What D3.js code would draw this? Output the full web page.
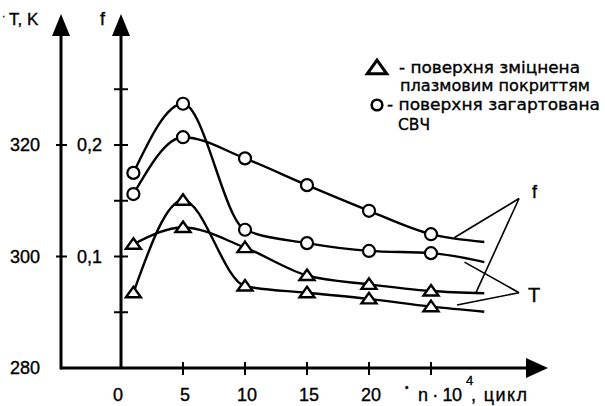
<!DOCTYPE html>
<html><head><meta charset="utf-8">
<script src="https://cdn.jsdelivr.net/npm/d3@7"></script>
<style>
html,body{margin:0;padding:0;background:#fff;}
svg text{font-family:"Liberation Sans",Arial,sans-serif;fill:#000;stroke:#000;stroke-width:0.35px;}
svg text.leg{font-family:"DejaVu Sans",sans-serif;stroke-width:0.35px;}
</style></head>
<body><svg id="c" width="605" height="406"></svg>
<script>
// ---- data ----
const cycles = [1, 5, 10, 15, 20, 25, 29.3];          // n·10^4 cycles (last = curve end, no marker)
const markerCount = 6;
const tempHardenedSHF = [315.0, 327.4, 304.8, 302.4, 301.0, 300.6, 299.0];   // T, K (circles)
const frictionHardenedSHF = [0.156, 0.207, 0.188, 0.164, 0.141, 0.120, 0.113]; // f (circles)
const tempPlasma = [293.5, 310.1, 294.7, 293.5, 292.4, 291.0, 290.1];         // T, K (triangles)
const frictionPlasma = [0.111, 0.126, 0.108, 0.083, 0.075, 0.069, 0.067];     // f (triangles)
const xTicks = [5, 10, 15, 20, 25];
const xTickLabels = ["0", "5", "10", "15", "20"];
const xTickLabelVals = [0, 5, 10, 15, 20];
const tTicks = [320, 300];
const tTickLabels = ["320", "300", "280"];
const tTickLabelVals = [320, 300, 280];
const fTicks = [0.25, 0.2, 0.15, 0.1, 0.05];
const fTickLabels = ["0,2", "0,1"];
const fTickLabelVals = [0.2, 0.1];
const legendTexts = [["- поверхня зміцнена", "плазмовим покриттям"], ["- поверхня загартована", "СВЧ"]];

// ---- scales ----
const svg = d3.select("#c");
const x = d3.scaleLinear().domain([0, 25]).range([121, 431]);
const yT = d3.scaleLinear().domain([280, 320]).range([368, 145]);
const yF = d3.scaleLinear().domain([0, 0.2]).range([368, 145]);
const tAxisX = 61, fAxisX = x(0), baseY = yT(280);

// ---- axes ----
const g = svg.append("g");
g.append("line").attr("x1", tAxisX).attr("x2", tAxisX).attr("y1", baseY + 1.5).attr("y2", 30).attr("stroke", "#000").attr("stroke-width", 3);
g.append("path").attr("d", `M${tAxisX},14 L${tAxisX - 9},36 L${tAxisX + 9},36 Z`).attr("fill", "#000");
g.append("line").attr("x1", fAxisX).attr("x2", fAxisX).attr("y1", baseY).attr("y2", 30).attr("stroke", "#000").attr("stroke-width", 3);
g.append("path").attr("d", `M${fAxisX},14 L${fAxisX - 9},36 L${fAxisX + 9},36 Z`).attr("fill", "#000");
g.append("line").attr("x1", tAxisX).attr("x2", 535).attr("y1", baseY).attr("y2", baseY).attr("stroke", "#000").attr("stroke-width", 3);
g.append("path").attr("d", `M548,${baseY} L526,${baseY - 10} L526,${baseY + 10} Z`).attr("fill", "#000");

// ticks
tTicks.forEach(v => g.append("line").attr("x1", tAxisX - 5).attr("x2", tAxisX + 6).attr("y1", yT(v)).attr("y2", yT(v)).attr("stroke", "#000").attr("stroke-width", 2));
fTicks.forEach(v => g.append("line").attr("x1", fAxisX - 7).attr("x2", fAxisX + 7).attr("y1", yF(v)).attr("y2", yF(v)).attr("stroke", "#000").attr("stroke-width", 2));
xTicks.forEach(v => g.append("line").attr("x1", x(v)).attr("x2", x(v)).attr("y1", baseY - 6).attr("y2", baseY + 7).attr("stroke", "#000").attr("stroke-width", 2));

// tick labels
tTickLabelVals.forEach((v, i) => g.append("text").attr("x", 40).attr("y", yT(v)).attr("dy", "0.35em").attr("text-anchor", "end").attr("font-size", 18).text(tTickLabels[i]));
fTickLabelVals.forEach((v, i) => g.append("text").attr("x", 102).attr("y", yF(v)).attr("dy", "0.35em").attr("text-anchor", "end").attr("font-size", 18).text(fTickLabels[i]));
xTickLabelVals.forEach((v, i) => g.append("text").attr("x", x(v) + (v === 0 ? -3 : 2)).attr("y", 401).attr("text-anchor", "middle").attr("font-size", 18).text(xTickLabels[i]));

// axis titles
g.append("text").attr("x", 2).attr("y", 20).attr("font-size", 10).text("·");
g.append("text").attr("x", 9).attr("y", 25).attr("font-size", 17).text("T, K");
g.append("text").attr("x", 100).attr("y", 25).attr("font-size", 18).text("f");
g.append("text").attr("x", 405).attr("y", 391).attr("font-size", 10).text("•");
g.append("text").attr("x", 418).attr("y", 401).attr("font-size", 18).attr("textLength", 44).attr("lengthAdjust", "spacing").text("n · 10");
g.append("text").attr("x", 466).attr("y", 385).attr("font-size", 13).text("4");
g.append("text").attr("x", 471).attr("y", 401).attr("font-size", 18).attr("textLength", 56).attr("lengthAdjust", "spacing").text(", цикл");

// ---- curves ----
const series = [
  {vals: tempHardenedSHF, y: yT, marker: "circle"},
  {vals: frictionHardenedSHF, y: yF, marker: "circle"},
  {vals: tempPlasma, y: yT, marker: "triangle"},
  {vals: frictionPlasma, y: yF, marker: "triangle"}
];
const line = d3.line().curve(d3.curveMonotoneX);
const triPath = (cx, cy, s) => `M${cx},${cy - s * 0.6} L${cx + s * 0.75},${cy + s * 0.45} L${cx - s * 0.75},${cy + s * 0.45} Z`;
series.forEach(s => {
  const pts = cycles.map((c, i) => [x(c), s.y(s.vals[i])]);
  g.append("path").attr("d", line(pts)).attr("fill", "none").attr("stroke", "#000").attr("stroke-width", 2.4);
});
series.forEach(s => {
  cycles.slice(0, markerCount).forEach((c, i) => {
    const cx = x(c), cy = s.y(s.vals[i]);
    if (s.marker === "circle") {
      g.append("circle").attr("cx", cx).attr("cy", cy).attr("r", 6).attr("fill", "#fff").attr("stroke", "#000").attr("stroke-width", 2.2);
    } else {
      g.append("path").attr("d", triPath(cx, cy, 10)).attr("fill", "#fff").attr("stroke", "#000").attr("stroke-width", 2.4).attr("stroke-linejoin", "miter");
    }
  });
});

// ---- leader annotations (data coords) ----
const fVertex = [32.1, 0.152], tVertex = [32.1, 293.5];
const fv = [x(fVertex[0]), yF(fVertex[1])];
const tv = [x(tVertex[0]), yT(tVertex[1])];
const lead = (a, b) => g.append("line").attr("x1", a[0]).attr("y1", a[1]).attr("x2", b[0]).attr("y2", b[1]).attr("stroke", "#000").attr("stroke-width", 1.6);
lead(fv, [x(26.9), yF(0.117)]);
lead(fv, [x(28.6), yF(0.067)]);
lead(tv, [x(27.7), yT(299.0)]);
lead(tv, [x(27.1), yT(291.3)]);
g.append("text").attr("x", fv[0] + 13).attr("y", fv[1] - 1).attr("font-size", 18).text("f");
g.append("text").attr("x", tv[0] + 9).attr("y", tv[1] + 9).attr("font-size", 20).text("T");

// ---- legend ----
g.append("path").attr("d", triPath(377, 68, 13)).attr("fill", "#fff").attr("stroke", "#000").attr("stroke-width", 3);
g.append("circle").attr("cx", 377).attr("cy", 105).attr("r", 5.3).attr("fill", "#fff").attr("stroke", "#000").attr("stroke-width", 2.6);
const legRows = [
  {t: legendTexts[0][0], x: 399, y: 73, w: 181},
  {t: legendTexts[0][1], x: 400, y: 91, w: 190},
  {t: legendTexts[1][0], x: 387, y: 110, w: 213},
  {t: legendTexts[1][1], x: 398, y: 130, w: 32}
];
legRows.forEach(r => g.append("text").attr("class", "leg").attr("x", r.x).attr("y", r.y).attr("font-size", 16)
  .attr("textLength", r.w).attr("lengthAdjust", "spacingAndGlyphs").text(r.t));
</script></body></html>
